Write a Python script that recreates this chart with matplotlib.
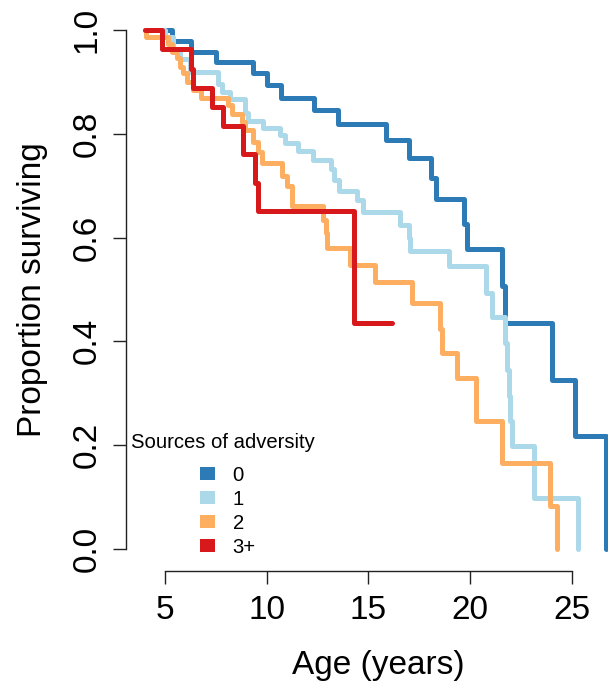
import matplotlib
matplotlib.use("Agg")
import matplotlib.pyplot as plt
import matplotlib.patches as mpatches

plt.rcParams["font.family"] = ["Liberation Sans", "DejaVu Sans"]

# Kaplan-Meier steps (age in years, proportion surviving).
groups = ["0", "1", "2", "3+"]
colors = ["#2C7BB6", "#ABD9E9", "#FDAE61", "#D7191C"]

age_0 = [4.0, 5.33, 6.26, 7.51, 9.31, 10.00, 10.69, 12.32, 13.52, 15.89,
         17.00, 18.07, 18.35, 19.72, 19.86, 21.57, 21.74, 24.03, 25.15, 26.70]
surv_0 = [1.0, 0.979, 0.959, 0.938, 0.917, 0.894, 0.870, 0.847, 0.819, 0.788,
          0.754, 0.715, 0.674, 0.626, 0.578, 0.507, 0.435, 0.326, 0.218, 0.0]

age_1 = [4.0, 5.0, 5.39, 5.74, 6.23, 7.62, 7.79, 8.19, 8.93, 9.09,
         9.80, 10.65, 10.90, 11.52, 12.29, 13.16, 13.30, 13.58, 14.42, 14.75,
         16.55, 17.00, 17.07, 18.98, 20.81, 21.08, 21.71, 21.82, 21.92, 21.99,
         22.07, 23.15, 25.31]
surv_1 = [1.0, 0.988, 0.962, 0.945, 0.919, 0.897, 0.881, 0.867, 0.840, 0.825,
          0.812, 0.798, 0.782, 0.767, 0.750, 0.732, 0.711, 0.690, 0.672, 0.650,
          0.624, 0.599, 0.575, 0.545, 0.493, 0.446, 0.396, 0.345, 0.295, 0.247,
          0.197, 0.098, 0.0]

age_2 = [4.0, 4.05, 5.16, 5.33, 5.57, 5.74, 5.90, 6.07, 6.39, 6.75,
         8.11, 8.28, 8.77, 8.93, 9.34, 9.58, 9.79, 10.73, 10.98, 11.24,
         12.75, 12.91, 12.99, 14.09, 15.32, 17.17, 18.51, 18.60, 19.36, 20.27,
         21.55, 23.92, 24.30]
surv_2 = [1.0, 0.987, 0.974, 0.958, 0.946, 0.929, 0.917, 0.900, 0.884, 0.870,
          0.856, 0.839, 0.823, 0.807, 0.785, 0.766, 0.743, 0.719, 0.699, 0.660,
          0.634, 0.608, 0.579, 0.547, 0.515, 0.473, 0.423, 0.377, 0.329, 0.247,
          0.165, 0.082, 0.0]

age_3 = [4.0, 4.84, 6.26, 6.36, 7.29, 7.86, 8.85, 9.42, 9.58, 14.29, 16.15]
surv_3 = [1.0, 0.963, 0.926, 0.889, 0.852, 0.815, 0.761, 0.705, 0.652, 0.435, 0.435]

ages = [age_0, age_1, age_2, age_3]
survs = [surv_0, surv_1, surv_2, surv_3]

x_ticks = [5, 10, 15, 20, 25]
y_ticks = [0.0, 0.2, 0.4, 0.6, 0.8, 1.0]

fig = plt.figure(figsize=(6.08, 6.86), dpi=100)
ax = fig.add_axes([126 / 608, 0.16808, 482 / 608, 0.81837])

for t, s, c in zip(ages, survs, colors):
    ax.step(t, s, where="post", color=c, lw=3.6, clip_on=False,
            solid_capstyle="round", solid_joinstyle="round")

ax.set_xlim(3.082, 26.785)
ax.set_ylim(-0.0428, 1.0405)

# R-style axes: lines only from first to last tick
for side in ["top", "right"]:
    ax.spines[side].set_visible(False)
ax.spines["left"].set_bounds(0, 1)
ax.spines["bottom"].set_bounds(5, 25)
for side in ["left", "bottom"]:
    ax.spines[side].set_linewidth(1.0)
    ax.spines[side].set_color("#222222")

ax.set_xticks(x_ticks)
ax.set_xticklabels([str(v) for v in x_ticks])
ax.set_yticks(y_ticks)
ax.set_yticklabels([f"{v:.1f}" for v in y_ticks])
ax.tick_params(axis="both", direction="out", length=9.2, width=1.0,
               color="#222222", labelsize=24)
ax.tick_params(axis="x", pad=8)
ax.tick_params(axis="y", pad=7.7, labelrotation=90)
plt.setp(ax.get_yticklabels(), va="center")

ax.set_xlabel("Age (years)", fontsize=24)
ax.xaxis.set_label_coords(0.5234, -0.1413)
ax.set_ylabel("Proportion surviving", fontsize=24)
ax.yaxis.set_label_coords(-0.1618, 0.5)

# Legend
fig.text(130.7 / 608, 1 - 448.5 / 686, "Sources of adversity", fontsize=14.6,
         ha="left", va="baseline")
handles = [mpatches.Patch(facecolor=c, edgecolor="none", label=g)
           for g, c in zip(groups, colors)]
ax.legend(handles=handles, loc="upper left", frameon=False, fontsize=14.6,
          bbox_to_anchor=(200 / 608, 1 - 466 / 686),
          bbox_transform=fig.transFigure, borderpad=0, borderaxespad=0,
          handlelength=0.74, handleheight=0.61, handletextpad=0.87,
          labelspacing=0.24)

fig.savefig("out.png", dpi=100)
